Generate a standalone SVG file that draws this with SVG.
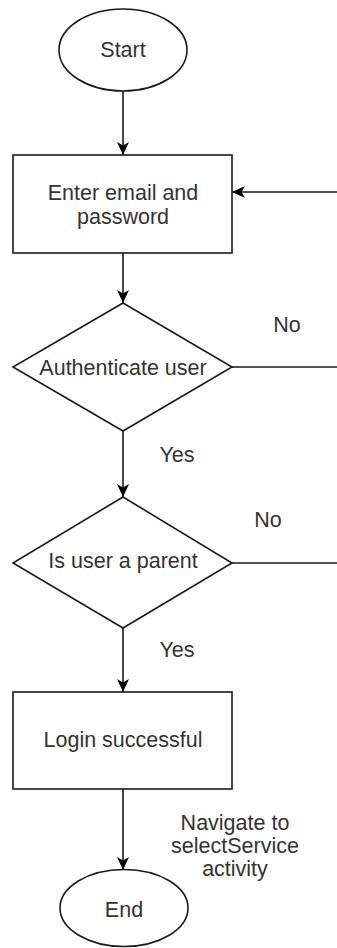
<svg xmlns="http://www.w3.org/2000/svg" width="337" height="948" viewBox="0 0 337 948">
  <style>
    .shape { fill: #ffffff; stroke: #1a1a1a; stroke-width: 1.6; }
    .edge { fill: none; stroke: #1a1a1a; stroke-width: 1.6; }
    text { font-family: "Liberation Sans", Arial, sans-serif; font-size: 21.5px; fill: #333333; text-anchor: middle; }
  </style>
  <defs>
    <marker id="arrow" viewBox="0 0 13 12" refX="13" refY="6" markerWidth="13" markerHeight="12" markerUnits="userSpaceOnUse" orient="auto">
      <path d="M0,0 L13,6 L0,12 L3.5,6 Z" fill="#000000"/>
    </marker>
  </defs>

  <rect width="337" height="948" fill="#ffffff"/>

  <!-- connectors and their labels -->
  <g id="connectors">
    <line class="edge" x1="123" y1="91" x2="123" y2="155" marker-end="url(#arrow)"/>
    <line class="edge" x1="337" y1="192" x2="232" y2="192" marker-end="url(#arrow)"/>
    <line class="edge" x1="123" y1="253" x2="123" y2="303" marker-end="url(#arrow)"/>
    <line class="edge" x1="232" y1="367" x2="337" y2="367"/>
    <line class="edge" x1="123" y1="431" x2="123" y2="497" marker-end="url(#arrow)"/>
    <line class="edge" x1="232" y1="563" x2="337" y2="563"/>
    <line class="edge" x1="123" y1="628" x2="123" y2="692" marker-end="url(#arrow)"/>
    <line class="edge" x1="123" y1="789" x2="123" y2="870" marker-end="url(#arrow)"/>
    <text x="287" y="332">No</text>
    <text x="177" y="462">Yes</text>
    <text x="268" y="527">No</text>
    <text x="177" y="657">Yes</text>
    <text x="235" y="830">Navigate to</text>
    <text x="235" y="853">selectService</text>
    <text x="235" y="876">activity</text>
  </g>

  <g id="start">
    <ellipse class="shape" cx="123" cy="50" rx="64" ry="41"/>
    <text x="123" y="57">Start</text>
  </g>

  <g id="enter-credentials">
    <rect class="shape" x="13" y="155" width="219" height="98"/>
    <text x="123" y="200">Enter email and</text>
    <text x="123" y="224">password</text>
  </g>

  <g id="authenticate">
    <polygon class="shape" points="123,303 232,367 123,431 13,367"/>
    <text x="123" y="375">Authenticate user</text>
  </g>

  <g id="is-parent">
    <polygon class="shape" points="123,497 232,563 123,628 13,563"/>
    <text x="123" y="568">Is user a parent</text>
  </g>

  <g id="login-successful">
    <rect class="shape" x="13" y="692" width="219" height="97"/>
    <text x="123" y="747">Login successful</text>
  </g>

  <g id="end">
    <ellipse class="shape" cx="124" cy="908" rx="64" ry="38.5"/>
    <text x="124" y="917">End</text>
  </g>
</svg>
